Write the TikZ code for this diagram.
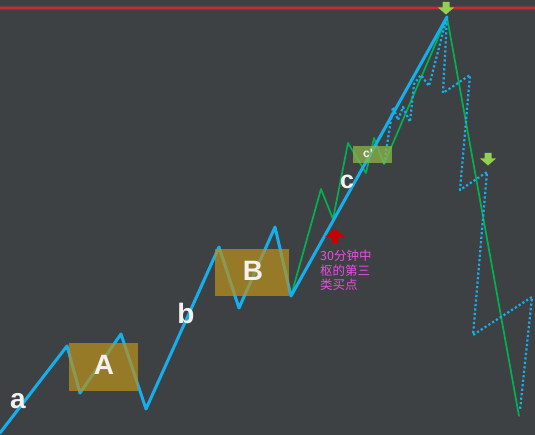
\documentclass[tikz,border=0pt]{standalone}
\usepackage{fontspec}
\setmainfont{Liberation Sans}
\newfontfamily\cjk{Noto Sans CJK SC}
\usetikzlibrary{positioning}
\definecolor{slate}{RGB}{62,65,68}
\definecolor{bibline}{RGB}{20,176,238}
\definecolor{segline}{RGB}{0,178,80}
\definecolor{zsbox}{RGB}{185,145,30}
\definecolor{cbox}{RGB}{140,180,75}
\definecolor{topred}{RGB}{205,40,50}
\definecolor{buyred}{RGB}{200,0,0}
\definecolor{sellgreen}{RGB}{146,208,80}
\definecolor{buytext}{RGB}{230,80,225}
\tikzset{
  bi/.style={bibline, line width=3pt},
  seg/.style={segline, line width=1.7pt},
  sub/.style={bibline, line width=2.2pt, line cap=butt, dash pattern=on 2.2pt off 2.3pt},
  zs/.style={fill=zsbox, fill opacity=0.72},
  lab/.style={white!90!gray, font=\bfseries\fontsize{28}{30}\selectfont},
  sellmark/.style={fill=sellgreen}
}
\begin{document}
\begin{tikzpicture}[x=1pt, y=-1pt, line cap=round, line join=round]
\useasboundingbox (0,0) rectangle (535,435);
\fill [slate] (0,0) rectangle (535,435);
% top line
\draw [topred, line width=4pt, opacity=0.35] (0,8) -- (535,8);
\draw [topred, line width=1.8pt] (0,8) -- (535,8);

% strokes (bi)
\coordinate (a0) at (0,433);
\coordinate (a1) at (67,346);
\coordinate (a2) at (80,393);
\coordinate (a3) at (121,334);
\coordinate (a4) at (146,409);
\coordinate (b1) at (219,247);
\coordinate (b2) at (239,308);
\coordinate (b3) at (275,227);
\coordinate (b4) at (291,296);
\coordinate (top) at (447,17);
\coordinate (end) at (519,416);

% 5-min segments
\draw [seg] (b4) -- (321,189) -- (333,219) -- (348,143) -- (366,173)
  -- (374,138) -- (384,164) coordinate (c4) -- (top) -- (end);
% 1-min dotted
\draw [sub] (c4) -- (393,107) -- (398,120) -- (403,107) -- (410,122)
  -- (414,84) -- (421,75) -- (429,86) -- (top) -- (443,93) -- (470,75)
  -- (460,190) -- (487,172) -- (473,335) -- (532,297) -- (520,410);
\draw [bi] (a0) -- (a1) -- (a2) -- (a3) -- (a4) -- (b1) -- (b2) -- (b3)
  -- (b4) -- (top);

% pivots
\fill [zs] (69,343) rectangle (138,391);
\fill [zs] (215,249) rectangle (289,296);
\fill [cbox, fill opacity=0.75] (353,146) rectangle (392,163);

\node [lab] (la) at (18,401) {a};
\node [lab] (lA) at (104,365) {A};
\node [lab] (lb) at (186,313) {b};
\node [lab] (lB) at (253,271) {B};
\node [lab, font=\bfseries\fontsize{25}{27}\selectfont] (lc) at (347,182) {c};
\node [white!90!gray, font=\bfseries\fontsize{12}{12}\selectfont] (lcc) at (368,153) {c’};

% sell marks
\foreach \x/\y in {446/2, 488/153}
  \fill [sellmark] (\x-3.5,\y) rectangle (\x+3.5,\y+5.5)
    (\x-8,\y+5.5) -- (\x+8,\y+5.5) -- (\x,\y+12.5) -- cycle;
% buy mark
\fill [buyred] (332,243) -- (332,237) -- (325,237) -- (335,229) -- (345,237)
  -- (338,237) -- (338,243) -- cycle;
\node [buytext, anchor=north west, align=left, inner sep=0pt,
  font=\cjk\fontsize{12.5}{14.5}\selectfont] (buy) at (320,250)
  {30分钟中\\枢的第三\\类买点};
\end{tikzpicture}
\end{document}
